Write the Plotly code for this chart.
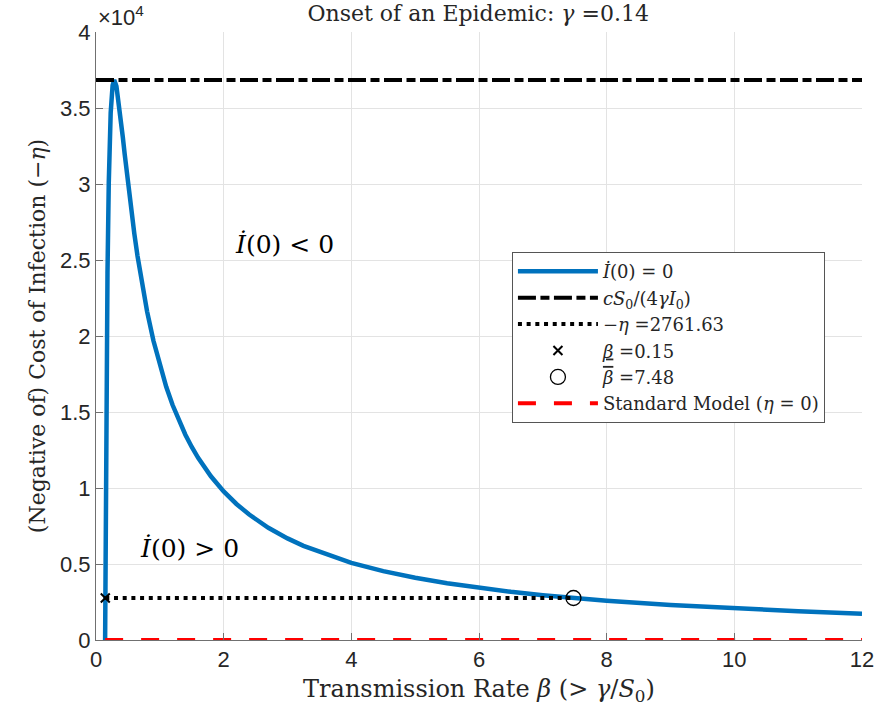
import plotly.graph_objects as go

# Data
beta = [0.1429, 0.15, 0.16, 0.18, 0.20, 0.23, 0.26, 0.2857, 0.32, 0.36, 0.39, 0.42, 0.45, 0.5,
        0.55, 0.6, 0.65, 0.7, 0.75, 0.8, 0.9, 1.0, 1.1, 1.2, 1.3, 1.4, 1.5, 1.6, 1.8, 2.0, 2.2,
        2.4, 2.7, 3.0, 3.25, 3.75, 4.0, 4.5, 5.0, 5.5, 6.0, 6.5, 7.0, 7.48, 8.0, 9.0, 10.0,
        11.0, 12.0]
neg_eta = [0, 6685, 14101, 24140, 30082, 34688, 36490, 36851, 36427, 35281, 34216, 33083, 31938,
           30082, 28341, 26739, 25275, 23943, 22728, 21621, 19683, 18049, 16657, 15459, 14418,
           13506, 12701, 11986, 10770, 9777, 8950, 8252, 7386, 6685, 6194, 5401, 5076, 4531,
           4091, 3729, 3426, 3168, 2947, 2761, 2585, 2303, 2076, 1889, 1734]
peak_level = 36850
eta_value = 2761.63
beta_low = 0.1456
beta_high = 7.48
beta_min = 0.1429
x_range = [0, 12]
y_ticks = [0, 5000, 10000, 15000, 20000, 25000, 30000, 35000, 40000]
y_ticktext = ["0", "0.5", "1", "1.5", "2", "2.5", "3", "3.5", "4"]
x_ticks = [0, 2, 4, 6, 8, 10, 12]

SERIF = "DejaVu Serif, serif"
SANS = "Liberation Sans, Arial, sans-serif"
TXT = "#262626"

fig = go.Figure()
fig.add_trace(go.Scatter(x=beta, y=neg_eta, mode="lines",
                         line=dict(color="#0072BD", width=4.5),
                         name="<i>İ</i>(0) = 0"))
fig.add_trace(go.Scatter(x=x_range, y=[peak_level, peak_level], mode="lines",
                         line=dict(color="black", width=4, dash="18px,4.5px,9px,4.5px"),
                         name="<i>cS</i><sub>0</sub>/(4<i>γI</i><sub>0</sub>)"))
fig.add_trace(go.Scatter(x=[beta_low, beta_high], y=[eta_value, eta_value], mode="lines",
                         line=dict(color="black", width=4, dash="4px,4.7px"),
                         name="−<i>η</i> =2761.63"))
fig.add_trace(go.Scatter(x=[beta_low], y=[eta_value], mode="markers",
                         marker=dict(symbol="x-thin", size=9, line=dict(color="black", width=2)),
                         name="<span style=\"text-decoration:underline\"><i>β</i></span> =0.15"))
fig.add_trace(go.Scatter(x=[beta_high], y=[eta_value], mode="markers",
                         marker=dict(symbol="circle-open", size=15, color="black", line=dict(width=1.3)),
                         name="<span style=\"text-decoration:overline;text-decoration-style:double\"><i>β</i></span> =7.48"))
fig.add_trace(go.Scatter(x=[beta_min, x_range[1]], y=[0, 0], mode="lines",
                         line=dict(color="#FF0000", width=4, dash="18px,18px"),
                         name="Standard Model (<i>η</i> = 0)"))

fig.update_layout(
    width=879, height=717,
    margin=dict(l=96, r=17, t=32, b=77),
    plot_bgcolor="white", paper_bgcolor="white",
    title=dict(text="Onset of an Epidemic: <i>γ</i> =0.14", x=0.544, xref="container",
               xanchor="center", y=0.981, yanchor="middle",
               font=dict(family=SERIF, size=22, color=TXT)),
    xaxis=dict(range=x_range, tickvals=x_ticks, showgrid=True, gridcolor="#e3e3e3",
               showline=True, linecolor="#707070", linewidth=1, ticks="inside", ticklen=7,
               tickcolor="#707070", zeroline=False, mirror=False, automargin=False,
               tickfont=dict(family=SANS, size=22, color=TXT),
               title=dict(text="Transmission Rate <i>β</i> (> <i>γ</i>/<i>S</i><sub>0</sub>)",
                          font=dict(family=SERIF, size=24, color=TXT), standoff=8)),
    yaxis=dict(range=[0, 40000], tickvals=y_ticks, ticktext=y_ticktext, showgrid=True,
               gridcolor="#e3e3e3", showline=True, linecolor="#707070", linewidth=1,
               ticks="inside", ticklen=7, tickcolor="#707070", zeroline=False, automargin=False,
               tickfont=dict(family=SANS, size=22, color=TXT),
               title=dict(text="(Negative of) Cost of Infection (−<i>η</i>)",
                          font=dict(family=SERIF, size=22, color=TXT), standoff=8)),
    legend=dict(x=0.543, y=0.638, xanchor="left", yanchor="top",
                bgcolor="white", bordercolor="#555", borderwidth=1,
                font=dict(family=SERIF, size=18, color=TXT),
                tracegroupgap=0, itemwidth=80),
    showlegend=True,
)

fig.add_annotation(x=0, y=1.0, xref="paper", yref="paper", xanchor="left", yanchor="bottom",
                   text="×10<sup>4</sup>", showarrow=False, yshift=0,
                   font=dict(family=SANS, size=22, color=TXT))
fig.add_annotation(x=2.95, y=26000, text="<i>İ</i>(0) < 0", showarrow=False,
                   font=dict(family=SERIF, size=25, color="black"))
fig.add_annotation(x=1.46, y=6000, text="<i>İ</i>(0) > 0", showarrow=False,
                   font=dict(family=SERIF, size=25, color="black"))

fig.write_html("out.html")
